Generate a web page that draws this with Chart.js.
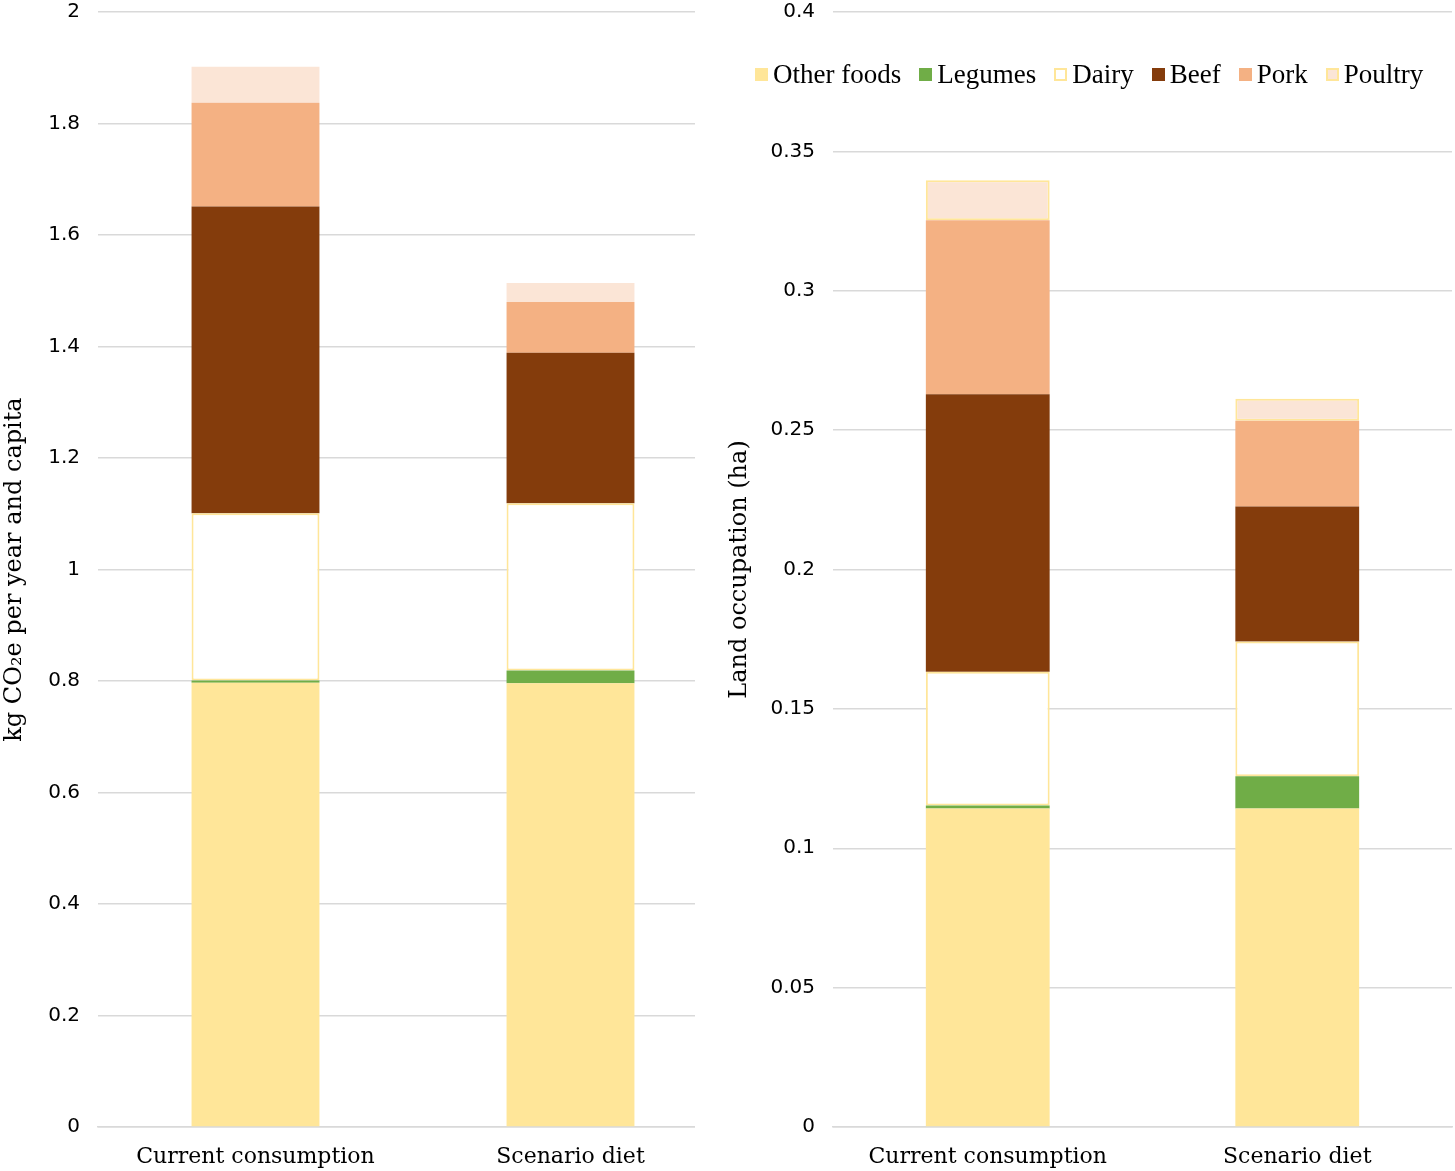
<!DOCTYPE html>
<html>
<head>
<meta charset="utf-8">
<script src="https://cdn.jsdelivr.net/npm/chart.js@4"></script>
<style>
  body { margin: 0; background: #fff; overflow: hidden; }
  .box { position: absolute; top: -18px; height: 1189px; background: #fff; }
  #legend { position: absolute; top: 59px; left: 755px; display: flex; font-family: "Liberation Serif", serif; font-size: 27px; color: #000; }
  #legend span.item { display: flex; align-items: center; margin-right: 18px; }
  #legend span.sw { display: inline-block; width: 13px; height: 13px; margin-right: 5px; box-sizing: border-box; }
</style>
</head>
<body>
<div class="box" style="left:0; width:731px;"><canvas id="co2Chart"></canvas></div>
<div class="box" style="left:695px; width:760px;"><canvas id="landChart"></canvas></div>
<div id="legend"></div>
<script>
const categories = ['Current consumption', 'Scenario diet'];
const seriesNames = ['Other foods', 'Legumes', 'Dairy', 'Beef', 'Pork', 'Poultry'];

// kg CO2e per year and capita
const co2OtherFoods = [0.797, 0.796];
const co2Legumes = [0.004, 0.023];
const co2Dairy = [0.30, 0.30];
const co2Beef = [0.55, 0.27];
const co2Pork = [0.186, 0.091];
const co2Poultry = [0.065, 0.034];

// land occupation (ha)
const landOtherFoods = [0.1143, 0.1143];
const landLegumes = [0.0010, 0.0115];
const landDairy = [0.0480, 0.0484];
const landBeef = [0.0996, 0.0484];
const landPork = [0.0624, 0.0308];
const landPoultry = [0.0143, 0.0079];

const fillColors = ['#FFE699', '#70AD47', '#FFFFFF', '#843C0C', '#F4B183', '#FBE5D6'];
const edgeColors = ['#FFE699', '#70AD47', '#FFE699', '#843C0C', '#F4B183', '#FFE699'];

function makeSets(values, poultryEdge) {
  return values.map((v, i) => {
    const bordered = i === 2 || (i === 5 && poultryEdge);
    return {
      label: seriesNames[i],
      data: v,
      backgroundColor: fillColors[i],
      borderColor: bordered ? edgeColors[i] : fillColors[i],
      borderWidth: bordered ? 2 : 0,
      borderSkipped: false
    };
  });
}

function makeChart(id, sets, yMax, yStep, yTitle, axisWidth, barPct, padLeft) {
  new Chart(document.getElementById(id), {
    type: 'bar',
    data: { labels: categories, datasets: sets },
    options: {
      responsive: true, maintainAspectRatio: false, animation: false,
      layout: { padding: { top: -7, right: 3, left: padLeft } },
      datasets: { bar: { barPercentage: barPct, categoryPercentage: 1 } },
      plugins: { legend: { display: false }, tooltip: { enabled: false } },
      scales: {
        x: {
          stacked: true,
          grid: { display: false },
          border: { display: true, color: '#d9d9d9', width: 1.5 },
          ticks: { color: '#000', padding: 9, font: { family: 'DejaVu Serif', size: 22 } },
          afterFit: (s) => { s.height = 44; }
        },
        y: {
          stacked: true, min: 0, max: yMax,
          ticks: {
            stepSize: yStep, color: '#000', padding: 18,
            font: { family: 'DejaVu Sans', size: 20 },
            callback: (v) => String(Number(v.toFixed(2)))
          },
          grid: { color: '#d9d9d9', lineWidth: 1.5, drawTicks: false },
          border: { display: false },
          title: { display: true, text: yTitle, color: '#000', padding: { top: 0, bottom: 0 }, font: { family: 'DejaVu Serif', size: 24 } },
          afterFit: (s) => { s.width = axisWidth; }
        }
      }
    }
  });
}

makeChart('co2Chart',
  makeSets([co2OtherFoods, co2Legumes, co2Dairy, co2Beef, co2Pork, co2Poultry], false),
  2, 0.2, 'kg CO\u2082e per year and capita', 98, 0.406, 0);

makeChart('landChart',
  makeSets([landOtherFoods, landLegumes, landDairy, landBeef, landPork, landPoultry], true),
  0.4, 0.05, 'Land occupation (ha)', 108, 0.40, 30);

const legend = document.getElementById('legend');
seriesNames.forEach((name, i) => {
  const item = document.createElement('span');
  item.className = 'item';
  const sw = document.createElement('span');
  sw.className = 'sw';
  sw.style.background = fillColors[i];
  if (i === 2 || i === 5) sw.style.border = '2px solid ' + edgeColors[i];
  item.appendChild(sw);
  item.appendChild(document.createTextNode(name));
  legend.appendChild(item);
});
</script>
</body>
</html>
